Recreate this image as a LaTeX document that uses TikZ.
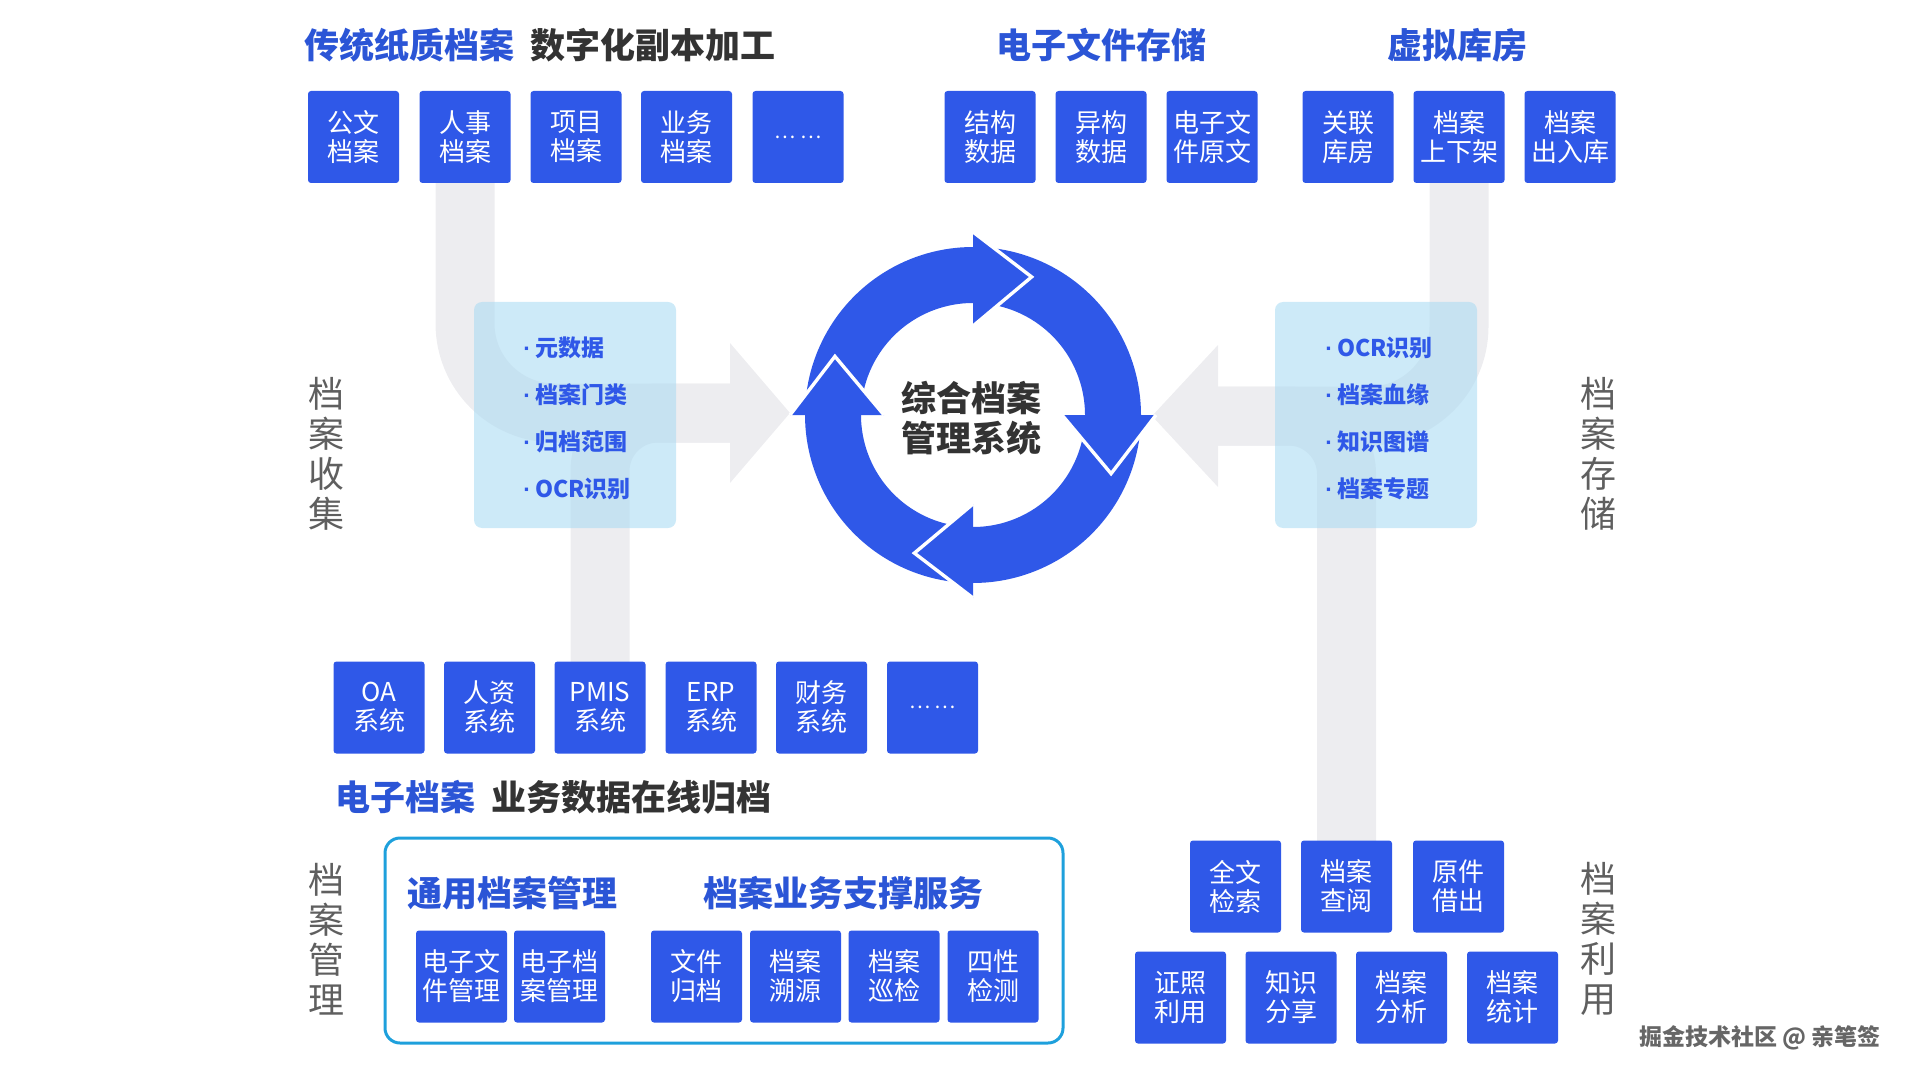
\documentclass[tikz,border=0pt]{standalone}
\usepackage{fontspec}
\setmainfont{Noto Sans CJK SC}
\newfontfamily\latinf{Liberation Sans}
\usetikzlibrary{calc}
\definecolor{boxblue}{RGB}{47,88,232}
\definecolor{titleblue}{RGB}{43,85,214}
\definecolor{darktext}{RGB}{51,51,51}
\definecolor{flowgray}{RGB}{237,237,240}
\definecolor{panelc}{RGB}{172,220,243}
\definecolor{framec}{RGB}{30,160,220}
\definecolor{labelgray}{RGB}{95,95,95}
\pgfdeclarelayer{bg}\pgfdeclarelayer{mid}\pgfsetlayers{bg,mid,main}
\newcommand{\bdot}{{\latinf\bfseries ·}\hspace{2pt}}
\begin{document}
\begin{tikzpicture}[x=0.5pt,y=-0.5pt,
  card/.style={fill=boxblue, rounded corners=1.5pt, minimum width=45.5pt, minimum height=46pt, inner sep=0pt, text=white, font=\fontsize{13pt}{14.5pt}\selectfont, align=center},
  dots/.style={card, font=\fontsize{10pt}{11pt}\selectfont},
  title/.style={font=\fontsize{17.5pt}{20pt}\selectfont\bfseries, text=titleblue, inner sep=0pt},
  bullet/.style={font=\fontsize{11.5pt}{13pt}\selectfont\bfseries, text=boxblue, anchor=west, inner sep=0pt},
  vlabel/.style={font=\fontsize{18pt}{20pt}\selectfont, text=labelgray, align=center, inner sep=0pt},
  flow/.style={draw=flowgray, line width=29.5pt},
  panel/.style={fill=panelc, fill opacity=0.6, rounded corners=4pt, minimum width=101pt, minimum height=113pt, inner sep=0pt},
]
\useasboundingbox (0,0) rectangle (1920,1080);

% titles
\node[title, anchor=west] (h1) at (304,45) {传统纸质档案\hspace{8pt}{\color{darktext}数字化副本加工}};
\node[title] (h2) at (1101,45) {电子文件存储};
\node[title] (h3) at (1457.5,45) {虚拟库房};

% top cards
\node[card] (t1) at (353.5,137) {公文\\档案};
\node[card] (t2) at (465,137) {人事\\档案};
\node[card] (t3) at (576,137) {项目\\档案};
\node[card] (t4) at (686.5,137) {业务\\档案};
\node[dots] (t5) at (798,137) {… …};
\node[card] (e1) at (990,137) {结构\\数据};
\node[card] (e2) at (1101,137) {异构\\数据};
\node[card] (e3) at (1212,137) {电子文\\件原文};
\node[card] (v1) at (1348,137) {关联\\库房};
\node[card] (v2) at (1459,137) {档案\\上下架};
\node[card] (v3) at (1570,137) {档案\\出入库};

% bottom-left system cards
\node[card] (s1) at (379,707.5) {OA\\系统};
\node[card] (s2) at (489.5,707.5) {人资\\系统};
\node[card] (s3) at (600,707.5) {PMIS\\系统};
\node[card] (s4) at (711,707.5) {ERP\\系统};
\node[card] (s5) at (821.5,707.5) {财务\\系统};
\node[dots] (s6) at (932.5,707.5) {… …};
\node[title, anchor=west] (h4) at (335,797) {电子档案\hspace{8pt}{\color{darktext}业务数据在线归档}};

% management frame
\node[draw=framec, line width=1.5pt, rounded corners=7.5pt, minimum width=339pt, minimum height=102.5pt, inner sep=0pt] (frame) at (724,940.5) {};
\node[title] (h5) at (512,893) {通用档案管理};
\node[title] (h6) at (843,893) {档案业务支撑服务};
\node[card] (m1) at (461.5,976.5) {电子文\\件管理};
\node[card] (m2) at (559.5,976.5) {电子档\\案管理};
\node[card] (m3) at (696.5,976.5) {文件\\归档};
\node[card] (m4) at (795.5,976.5) {档案\\溯源};
\node[card] (m5) at (894,976.5) {档案\\巡检};
\node[card] (m6) at (993,976.5) {四性\\检测};

% usage cards
\node[card] (u1) at (1235.5,886.5) {全文\\检索};
\node[card] (u2) at (1346.5,886.5) {档案\\查阅};
\node[card] (u3) at (1458.5,886.5) {原件\\借出};
\node[card] (w1) at (1180.5,997.5) {证照\\利用};
\node[card] (w2) at (1291,997.5) {知识\\分享};
\node[card] (w3) at (1401.5,997.5) {档案\\分析};
\node[card] (w4) at (1512.5,997.5) {档案\\统计};

% vertical labels
\node[vlabel] (l1) at (326,454) {档\\案\\收\\集};
\node[vlabel] (l2) at (1598,454) {档\\案\\存\\储};
\node[vlabel] (l3) at (326,939) {档\\案\\管\\理};
\node[vlabel] (l4) at (1598,939) {档\\案\\利\\用};

% panels
\begin{pgfonlayer}{mid}
\node[panel] (p1) at (575,415) {};
\node[panel] (p2) at (1376,415) {};
\end{pgfonlayer}
\node[bullet] (b1) at (523,348) {\bdot 元数据};
\node[bullet] (b2) at (523,395) {\bdot 档案门类};
\node[bullet] (b3) at (523,442) {\bdot 归档范围};
\node[bullet] (b4) at (523,489) {\bdot OCR识别};
\node[bullet] (b5) at (1325,348) {\bdot OCR识别};
\node[bullet] (b6) at (1325,395) {\bdot 档案血缘};
\node[bullet] (b7) at (1325,442) {\bdot 知识图谱};
\node[bullet] (b8) at (1325,489) {\bdot 档案专题};

% gray flows
\begin{pgfonlayer}{bg}
\draw[flow, rounded corners=44.75pt] (t2.center) |- (732,413);
\draw[flow, rounded corners=29pt] (s3.center) |- (732,413);
\fill[flowgray] (730,343) -- (790,413) -- (730,483) -- cycle;
\draw[flow, rounded corners=44.75pt] (v2.center) |- (1216,416);
\draw[flow, rounded corners=29pt] (u2.center) |- (1216,416);
\fill[flowgray] (1218,345) -- (1152,416) -- (1218,487) -- cycle;
\end{pgfonlayer}

% cycle ring
\coordinate (C) at (973,415);
\begin{pgfonlayer}{mid}
\foreach \b in {90,0,-90,180} {
  \pgfmathsetmacro\sa{-(\b+90)}
  \pgfmathsetmacro\ea{-(\b-2)}
  \fill[boxblue] ($(C)+(\sa:168)$) arc[start angle=\sa, end angle=\ea, radius=168] -- ($(C)+(\ea:112)$) arc[start angle=\ea, end angle=\sa, radius=112] -- cycle;
}
\foreach \b in {90,0,-90,180} {
  \pgfmathsetmacro\ba{-\b}
  \pgfmathsetmacro\ta{-(\b-23)}
  \fill[boxblue] ($(C)+(\ba:183)$) -- ($(C)+(\ta:150)$) -- ($(C)+(\ba:89)$) -- cycle;
  \draw[white, line width=1.7pt, line join=miter] ($(C)+(\ba:183)$) -- ($(C)+(\ta:150)$) -- ($(C)+(\ba:89)$);
}
\end{pgfonlayer}
\node[font=\fontsize{17.5pt}{20pt}\selectfont\bfseries, text=darktext, align=center, inner sep=0pt] (core) at (971,418) {综合档案\\管理系统};

% watermark
\node[font=\fontsize{11.5pt}{12pt}\selectfont\bfseries, text=black!60, inner sep=0pt] (wm) at (1760,1038) {掘金技术社区 @ 亲笔签};
\end{tikzpicture}
\end{document}
